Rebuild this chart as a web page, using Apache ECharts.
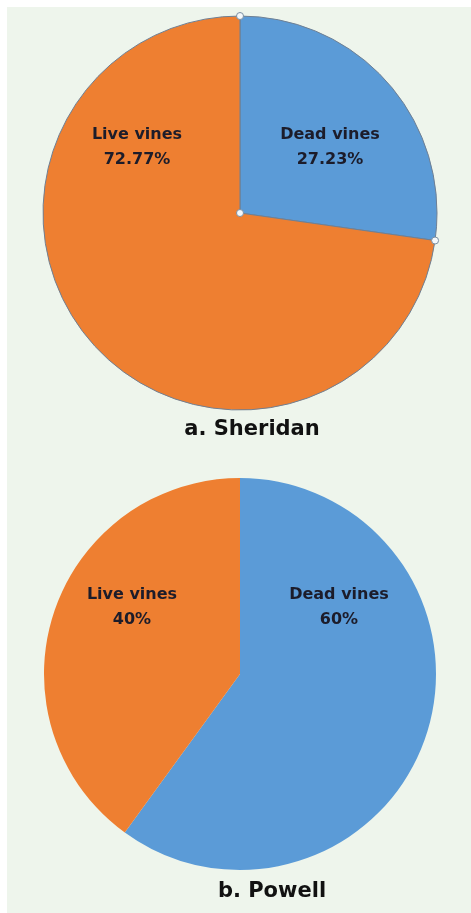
<!DOCTYPE html>
<html>
<head>
<meta charset="utf-8">
<script src="https://cdn.jsdelivr.net/npm/echarts@6/dist/echarts.min.js"></script>
<style>
  html, body { margin: 0; padding: 0; background: #ffffff; }
  #myChart { width: 471px; height: 913px; }
</style>
</head>
<body>
<div id="myChart"></div>
<script>
// data
var categories = ['Dead vines', 'Live vines'];
var sheridanValues = [27.23, 72.77];
var powellValues = [60, 40];
var sheridanLabels = ['27.23%', '72.77%'];
var powellLabels = ['60%', '40%'];
var chartTitles = ['a. Sheridan', 'b. Powell'];

var colors = ['#5b9bd7', '#ee7f31'];

// where each label sits (per pie, per slice)
var labelSpots = [
  [[330, 147], [137, 147]],
  [[339, 607], [132, 607]]
];

var myChart = echarts.init(document.getElementById('myChart'));

function buildData(values, labels) {
  return values.map(function (v, i) {
    return { name: categories[i], value: v, pct: labels[i] };
  });
}

var labelStyle = {
  show: true,
  position: 'inside',
  color: '#1c1c2a',
  fontFamily: 'DejaVu Sans',
  fontWeight: 'bold',
  fontSize: 16,
  lineHeight: 25,
  formatter: function (p) { return p.name + '\n' + p.data.pct; }
};

// selection handles on the first pie (Excel-style), from its slice boundary
var c1 = [240, 213], r1 = 197;
var sum1 = sheridanValues[0] + sheridanValues[1];
var ang = sheridanValues[0] / sum1 * Math.PI * 2;
var handlePts = [
  c1,
  [c1[0], c1[1] - r1],
  [c1[0] + r1 * Math.sin(ang), c1[1] - r1 * Math.cos(ang)]
];
var handles = handlePts.map(function (pt) {
  return { type: 'circle', z: 100, shape: { cx: pt[0], cy: pt[1], r: 3.5 },
    style: { fill: '#f4f8fb', stroke: '#7b8fa3', lineWidth: 1 } };
});

var titleFont = 'bold 21px "DejaVu Sans"';

var option = {
  animation: false,
  backgroundColor: 'transparent',
  color: colors,
  graphic: [
    { type: 'rect', z: -10, shape: { x: 7, y: 7, width: 464, height: 906 }, style: { fill: '#eef5ec' } },
    { type: 'text', style: { text: chartTitles[0], x: 252, y: 430, textAlign: 'center', textVerticalAlign: 'middle',
        font: titleFont, fill: '#111111' } },
    { type: 'text', style: { text: chartTitles[1], x: 272, y: 892, textAlign: 'center', textVerticalAlign: 'middle',
        font: titleFont, fill: '#111111' } }
  ].concat(handles),
  series: [
    {
      name: chartTitles[0],
      type: 'pie',
      center: c1,
      radius: r1,
      startAngle: 90,
      clockwise: true,
      emphasis: { disabled: true },
      itemStyle: { borderColor: '#6f8094', borderWidth: 1 },
      label: labelStyle,
      labelLine: { show: false },
      labelLayout: function (p) {
        var s = labelSpots[0][p.dataIndex];
        return { x: s[0], y: s[1], align: 'center', verticalAlign: 'middle' };
      },
      data: buildData(sheridanValues, sheridanLabels)
    },
    {
      name: chartTitles[1],
      type: 'pie',
      center: [240, 674],
      radius: 196,
      startAngle: 90,
      clockwise: true,
      emphasis: { disabled: true },
      itemStyle: { borderWidth: 0 },
      label: labelStyle,
      labelLine: { show: false },
      labelLayout: function (p) {
        var s = labelSpots[1][p.dataIndex];
        return { x: s[0], y: s[1], align: 'center', verticalAlign: 'middle' };
      },
      data: buildData(powellValues, powellLabels)
    }
  ]
};

myChart.setOption(option);
</script>
</body>
</html>
